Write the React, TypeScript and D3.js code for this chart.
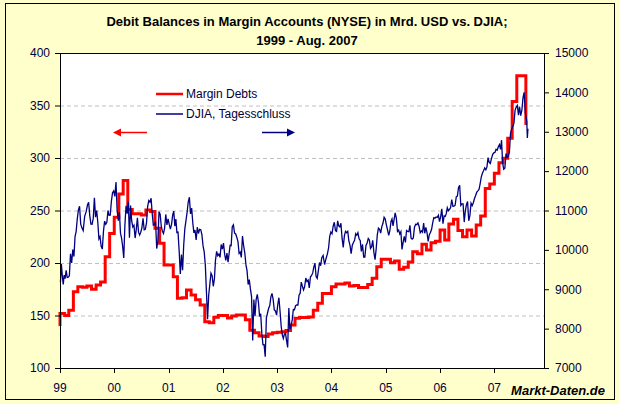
import React from "react";
import * as d3 from "d3";

// Texte
const title1 = "Debit Balances in Margin Accounts (NYSE) in Mrd. USD vs. DJIA;";
const title2 = "1999 - Aug. 2007";
const yearLabels = ["99", "00", "01", "02", "03", "04", "05", "06", "07"];
const leftTicks = [100, 150, 200, 250, 300, 350, 400];
const rightTicks = [7000, 8000, 9000, 10000, 11000, 12000, 13000, 14000, 15000];
const legendNames = ["Margin Debts", "DJIA, Tagesschluss"];

// Margin Debt (Mrd. USD), Dez. 1998 und danach Monatswerte Jan 1999 .. Aug 2007
const marginStart = 140;
const marginDebt = [
  152, 150, 155, 172.7, 177.5, 177, 178, 175, 179, 182, 206, 228,
  243.5, 265.7, 278.5, 251, 247, 247, 245.6, 250.5, 249, 233, 218.7, 198,
  198, 187, 166.4, 167, 174.3, 169.5, 165, 160, 144, 143, 148.3, 150,
  150, 147.6, 149.6, 150.5, 150.5, 146, 136, 133.6, 130.5, 130, 132.4, 133.6,
  134, 134.5, 135.6, 141, 147.3, 148, 148, 148.5, 155, 161.6, 171, 171,
  177.5, 180, 180, 180.9, 178, 178.5, 176.6, 176.6, 179.6, 185.4, 196.5, 203.5,
  203.5, 200.3, 202, 194, 196, 201, 210.8, 208.7, 217.8, 212.4, 219.4, 220.6,
  231.4, 221.9, 237.1, 241.6, 231, 225, 231.4, 225.7, 236.2, 244.8, 271, 275.2,
  285.4, 295.5, 299.7, 318.7, 353.7, 378.4, 378.4, 331.4,
];

// DJIA, einige Schlusskurse je Monat ab Jan 1999
const djiaMonthly = [
  [9184, 9643, 9340, 9120, 9358], [9270, 9480, 9300, 9306], [9340, 9900, 9670, 10006],
  [9830, 10340, 10470, 10789], [11014, 11107, 10654, 10559], [10490, 10850, 10970],
  [11139, 11209, 10870, 10655], [10650, 10800, 11326, 10829], [11000, 10700, 10280, 10337],
  [10090, 10020, 10470, 10729], [10650, 10700, 11000, 10877], [10880, 11230, 11450, 11497],
  [11357, 11723, 11000, 10739], [10960, 10425, 10300, 10092], [9796, 10630, 11119, 10922],
  [11221, 10306, 11124, 10734], [10580, 10626, 10300, 10522], [10815, 10450, 10376, 10448],
  [10560, 10804, 10511, 10522], [10687, 11100, 11252, 11215], [11310, 10927, 10631, 10651],
  [10719, 10034, 10226, 10971], [10907, 10600, 10470, 10415], [10560, 10900, 10636, 10787],
  [10646, 10525, 10650, 10887], [10983, 10600, 10780, 10441], [10450, 9973, 9389, 9879],
  [9485, 10126, 10532, 10735], [10949, 11215, 11337, 10912], [11061, 10690, 10432, 10502],
  [10250, 10576, 10416, 10523], [10512, 10385, 10100, 9950], [9606, 8920, 8236, 8848],
  [9123, 9410, 9345, 9075], [9263, 9750, 9960, 9852], [9893, 9811, 10136, 10021],
  [10172, 9891, 9730, 9920], [9687, 9903, 10115, 10106], [10586, 10635, 10427, 10404],
  [10313, 10209, 9910, 9946], [9808, 10353, 10105, 9925], [9624, 9474, 9120, 9243],
  [9008, 8813, 7702, 8737], [8313, 8745, 8872, 8664], [8308, 8380, 7873, 7592],
  [7591, 7286, 8275, 8397], [8517, 8586, 8805, 8896], [8742, 8473, 8448, 8342],
  [8607, 8785, 8443, 8054], [7843, 7749, 7858, 7891], [7704, 7524, 8521, 7992],
  [8069, 8221, 8485, 8480], [8582, 8600, 8600, 8850], [8900, 9183, 9073, 8985],
  [9070, 9286, 9200, 9233], [9036, 9310, 9350, 9415], [9568, 9660, 9320, 9275],
  [9469, 9680, 9598, 9801], [9858, 9629, 9782], [9899, 10042, 10341, 10454],
  [10409, 10600, 10702, 10488], [10470, 10737, 10609, 10584], [10678, 10297, 10064, 10357],
  [10470, 10437, 10472, 10226], [10117, 9906, 10117, 10188], [10243, 10410, 10371, 10435],
  [10282, 10238, 9962, 10140], [9815, 9815, 10111, 10174], [10290, 10250, 10038, 10080],
  [10240, 9933, 9750, 10027], [10386, 10550, 10520, 10428], [10592, 10676, 10828, 10783],
  [10630, 10505, 10368, 10490], [10716, 10784, 10611, 10766], [10940, 10804, 10471, 10504],
  [10404, 10461, 10012, 10192], [10340, 10189, 10493, 10467], [10460, 10623, 10297, 10275],
  [10303, 10574, 10651, 10641], [10683, 10600, 10434, 10482], [10447, 10682, 10422, 10569],
  [10441, 10216, 10385, 10440], [10522, 10687, 10820, 10806], [10835, 10823, 10881, 10718],
  [10847, 11043, 10667, 10864], [10851, 10919, 11069, 10993], [11025, 11076, 11279, 11109],
  [11110, 11137, 11347, 11367], [11577, 11642, 11128, 11168], [11168, 10706, 10989, 11150],
  [11228, 10739, 10868, 11185], [11125, 11198, 11305, 11381], [11465, 11498, 11533, 11679],
  [11850, 11947, 12011, 12081], [12032, 12108, 12342, 12221], [12194, 12316, 12421, 12463],
  [12474, 12556, 12533, 12622], [12673, 12552, 12786, 12216], [12050, 12075, 12447, 12354],
  [12383, 12484, 12961, 13063], [13136, 13215, 13542, 13628], [13668, 13424, 13636, 13409],
  [13535, 13861, 14000, 13473], [13362, 13270, 12845, 13079],
];

const startDate = new Date(1999, 0, 1);
const endDate = new Date(2007, 11, 1);
const djiaLastDay = new Date(2007, 7, 17);

const W = 619;
const H = 404;
const plot = { left: 60, right: 544, top: 53, bottom: 368 };
const font = "Arial, 'Liberation Sans', sans-serif";
const textColor = "#00003a";

type Pt = { date: Date; value: number };

const App: React.FC = () => {
  const x = d3.scaleTime().domain([startDate, endDate]).range([plot.left, plot.right]);
  const yL = d3.scaleLinear().domain([100, 400]).range([plot.bottom, plot.top]);
  const yR = d3.scaleLinear().domain([7000, 15000]).range([plot.bottom, plot.top]);

  const marginPts: Pt[] = [
    { date: startDate, value: marginStart },
    ...marginDebt.map((v, i) => ({ date: d3.timeMonth.offset(startDate, i), value: v })),
  ];

  const djiaPts: Pt[] = djiaMonthly.flatMap((vals, m) => {
    const s = d3.timeMonth.offset(startDate, m);
    const e = m === djiaMonthly.length - 1 ? djiaLastDay : d3.timeMonth.offset(startDate, m + 1);
    return vals.map((v, j) => ({
      date: new Date(+s + ((j + 0.5) / vals.length) * (+e - +s)),
      value: v,
    }));
  });

  const marginLine = d3
    .line<Pt>()
    .x((d) => x(d.date))
    .y((d) => yL(d.value))
    .curve(d3.curveStepAfter);

  const djiaLine = d3
    .line<Pt>()
    .x((d) => x(d.date))
    .y((d) => yR(d.value));

  const yearTicks = d3.timeYear.range(startDate, new Date(2008, 0, 1));

  return (
    <svg
      width={W}
      height={H}
      style={{ position: "absolute", left: 0, top: 0, fontFamily: font }}
    >
      <rect x={0} y={0} width={W} height={H} fill="#FFFFCC" />
      <rect x={5.5} y={3.5} width={609} height={396} fill="none" stroke="#000" />

      {/* Titel */}
      <text x={307} y={26} textAnchor="middle" fontSize={13} fontWeight="bold" fill="#000">
        {title1}
      </text>
      <text x={307} y={45} textAnchor="middle" fontSize={13} fontWeight="bold" fill="#000">
        {title2}
      </text>

      {/* Plotfläche */}
      <rect
        x={plot.left}
        y={plot.top}
        width={plot.right - plot.left}
        height={plot.bottom - plot.top}
        fill="#fff"
      />
      {leftTicks.slice(1, -1).map((t) => (
        <line
          key={t}
          x1={plot.left}
          x2={plot.right}
          y1={yL(t) + 0.5}
          y2={yL(t) + 0.5}
          stroke="#c0c0c0"
          strokeDasharray="4,3"
        />
      ))}

      <path d={marginLine(marginPts) ?? ""} fill="none" stroke="#ff0000" strokeWidth={3} />
      <path d={djiaLine(djiaPts) ?? ""} fill="none" stroke="#000080" strokeWidth={1.3} />

      <rect
        x={plot.left + 0.5}
        y={plot.top + 0.5}
        width={plot.right - plot.left}
        height={plot.bottom - plot.top}
        fill="none"
        stroke="#000"
      />

      {/* linke Achse */}
      {leftTicks.map((t) => (
        <g key={t}>
          <line x1={plot.left - 5} x2={plot.left} y1={yL(t) + 0.5} y2={yL(t) + 0.5} stroke="#000" />
          <text x={50} y={yL(t)} dy="0.36em" textAnchor="end" fontSize={12} fill={textColor}>
            {t}
          </text>
        </g>
      ))}

      {/* rechte Achse */}
      {rightTicks.map((t) => (
        <g key={t}>
          <line
            x1={plot.right}
            x2={plot.right + 5}
            y1={yR(t) + 0.5}
            y2={yR(t) + 0.5}
            stroke="#000"
          />
          <text x={555} y={yR(t)} dy="0.36em" fontSize={12} fill={textColor}>
            {t}
          </text>
        </g>
      ))}

      {/* x-Achse */}
      {yearTicks.map((d, i) => (
        <g key={i}>
          <line
            x1={Math.round(x(d)) + 0.5}
            x2={Math.round(x(d)) + 0.5}
            y1={plot.bottom}
            y2={plot.bottom + 5}
            stroke="#000"
          />
          <text x={x(d)} y={392} textAnchor="middle" fontSize={12} fill={textColor}>
            {yearLabels[i]}
          </text>
        </g>
      ))}

      {/* Legende */}
      <line x1={156} x2={183} y1={94} y2={94} stroke="#ff0000" strokeWidth={2.5} />
      <text x={186} y={94} dy="0.36em" fontSize={12} fill={textColor}>
        {legendNames[0]}
      </text>
      <line x1={156} x2={183} y1={114} y2={114} stroke="#000080" strokeWidth={1.5} />
      <text x={186} y={114} dy="0.36em" fontSize={12} fill={textColor}>
        {legendNames[1]}
      </text>

      {/* Pfeile */}
      <line x1={147} x2={119} y1={132.5} y2={132.5} stroke="#ff0000" strokeWidth={1.5} />
      <polygon points="113,132.5 121,128.5 121,136.5" fill="#ff0000" />
      <line x1={262} x2={289} y1={132.5} y2={132.5} stroke="#000080" strokeWidth={1.5} />
      <polygon points="295,132.5 287,128.5 287,136.5" fill="#000080" />

      <text
        x={605}
        y={395}
        textAnchor="end"
        fontSize={13}
        fontWeight="bold"
        fontStyle="italic"
        fill="#000"
      >
        Markt-Daten.de
      </text>
    </svg>
  );
};

export default App;
